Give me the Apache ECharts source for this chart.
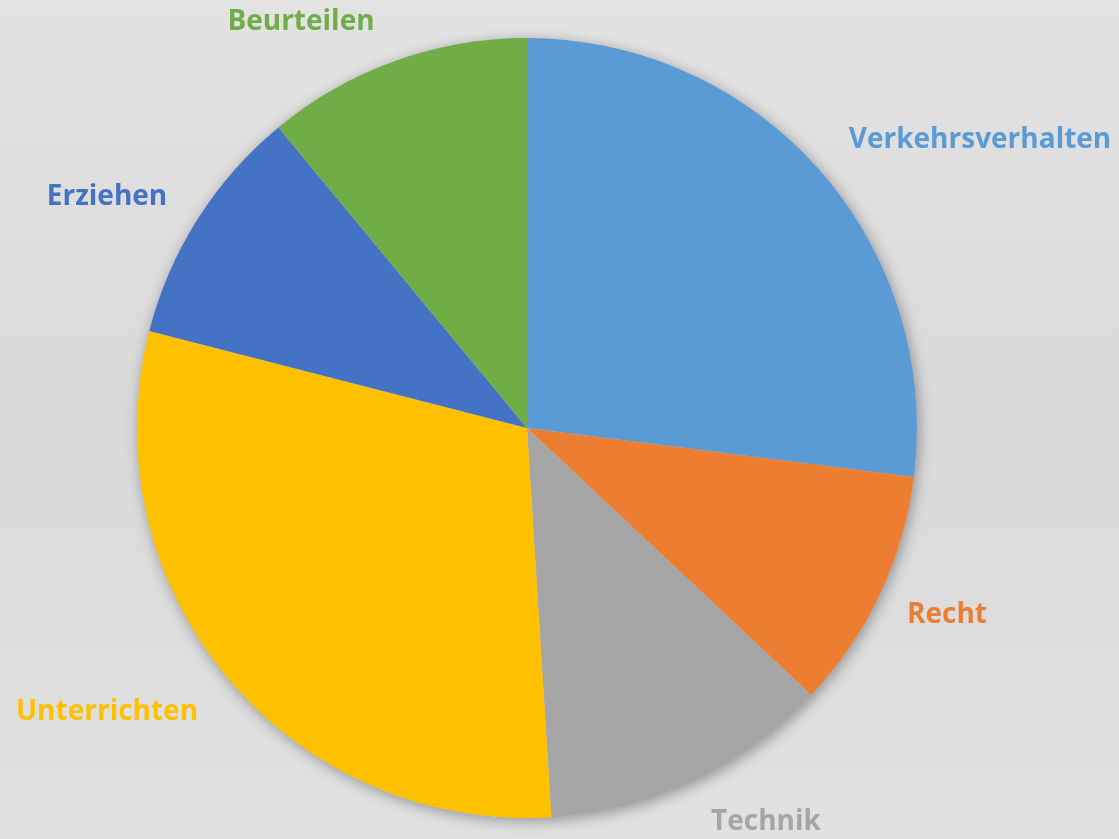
<!DOCTYPE html>
<html>
<head>
<meta charset="utf-8">
<script src="https://cdn.jsdelivr.net/npm/echarts@6/dist/echarts.min.js"></script>
<style>
  html, body { margin: 0; padding: 0; width: 100%; height: 100%; }
  #chart { width: 1119px; height: 839px; }
</style>
</head>
<body>
<div id="chart"></div>
<script>
// Anteile (in %)
const categories = ['Verkehrsverhalten', 'Recht', 'Technik', 'Unterrichten', 'Erziehen', 'Beurteilen']
const values = [27, 10, 12, 30, 10, 11]
const colors = ['#5B9BD5', '#ED7D31', '#A5A5A5', '#FFC000', '#4472C4', '#70AD47']

// label anchor points (px)
const labelPos = [[980, 140], [947, 615], [766, 822], [107, 712], [107, 197], [301, 22]]

const chart = echarts.init(document.getElementById('chart'))

const option = {
  backgroundColor: new echarts.graphic.LinearGradient(0, 0, 0, 1, [
    { offset: 0, color: '#e3e3e3' },
    { offset: 0.5, color: '#d9d9d9' },
    { offset: 1, color: '#e1e1e1' }
  ]),
  animation: false,
  series: [
    {
      // shadow disc behind the pie
      type: 'pie',
      z: 1,
      silent: true,
      center: [527, 428],
      radius: 390,
      data: [{ value: 1, name: '' }],
      itemStyle: {
        color: '#cccccc',
        shadowBlur: 14,
        shadowColor: 'rgba(0, 0, 0, 0.35)',
        shadowOffsetX: 2,
        shadowOffsetY: 3
      },
      label: { show: false },
      labelLine: { show: false }
    },
    {
      type: 'pie',
      z: 2,
      center: [527, 428],
      radius: 390,
      startAngle: 90,
      clockwise: true,
      avoidLabelOverlap: false,
      data: categories.map((name, i) => ({
        name: name,
        value: values[i],
        itemStyle: { color: colors[i] },
        label: { color: colors[i] }
      })),
      itemStyle: { borderWidth: 0 },
      label: {
        show: true,
        position: 'outside',
        formatter: '{b}',
        fontFamily: 'Open Sans',
        fontWeight: 'bold',
        fontSize: 28
      },
      labelLine: { show: false },
      labelLayout: params => ({
        x: labelPos[params.dataIndex][0],
        y: labelPos[params.dataIndex][1],
        align: 'center',
        verticalAlign: 'middle'
      })
    }
  ]
}

chart.setOption(option)
</script>
</body>
</html>
